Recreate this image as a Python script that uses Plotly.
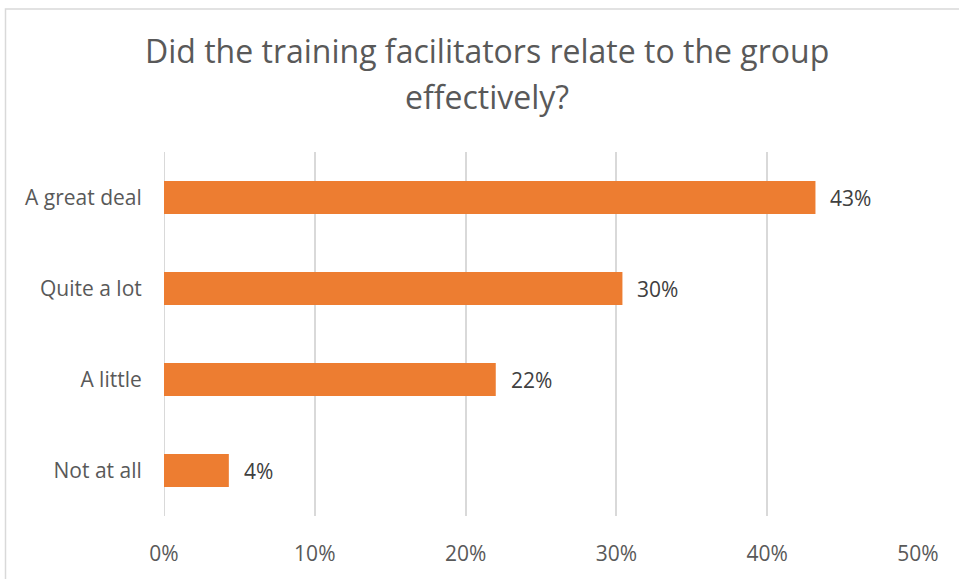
import plotly.graph_objects as go

categories = ["A great deal", "Quite a lot", "A little", "Not at all"]
values = [0.432, 0.304, 0.220, 0.043]
labels = ["43%", "30%", "22%", "4%"]
tick_vals = [0, 0.1, 0.2, 0.3, 0.4, 0.5]
tick_text = ["0%", "10%", "20%", "30%", "40%", "50%"]
title_lines = ["Did the training facilitators relate to the group", "effectively?"]

FONT = "Open Sans"
TXT = "#595959"

fig = go.Figure(go.Bar(
    y=categories, x=values, orientation="h",
    marker=dict(color="#ED7D31", line=dict(width=0)),
    width=0.36,
    hoverinfo="skip",
))

# data labels, offset from the bar ends like the reference
for cat, val, lab in zip(categories, values, labels):
    fig.add_annotation(text=lab, x=val, y=cat, xref="x", yref="y",
                       xanchor="left", yanchor="middle", xshift=13,
                       showarrow=False,
                       font=dict(family=FONT, size=21, color="#404040"))

PLOT_H = 368.0
fig.update_layout(
    width=959, height=579,
    margin=dict(l=164, r=41, t=152, b=59),
    paper_bgcolor="white", plot_bgcolor="white",
    showlegend=False,
    font=dict(family=FONT, color=TXT, size=21),
)
# title as two annotations (reference line spacing is wider than plotly's default)
for i, line in enumerate(title_lines):
    base_px = [60, 107][i]
    fig.add_annotation(text=line, xref="paper", yref="paper",
                       x=(487 - 164) / 754.0, xanchor="center",
                       y=(520 - base_px) / PLOT_H, yanchor="middle", yshift=11,
                       showarrow=False,
                       font=dict(family=FONT, size=32, color=TXT))
fig.update_xaxes(range=[0, 0.5], tickvals=tick_vals, ticktext=tick_text,
                 showgrid=True, gridcolor="#D9D9D9", gridwidth=2, zeroline=False,
                 ticks="outside", ticklen=19, tickcolor="rgba(0,0,0,0)",
                 tickfont=dict(family=FONT, size=21, color=TXT))
fig.update_yaxes(autorange="reversed", showgrid=False, zeroline=False,
                 ticks="outside", ticklen=17, tickcolor="rgba(0,0,0,0)",
                 tickfont=dict(family=FONT, size=21, color=TXT))
fig.add_shape(type="line", xref="x", yref="paper", x0=0, x1=0, y0=0, y1=1,
              line=dict(color="#D9D9D9", width=2), layer="below")
fig.add_shape(type="rect", xref="paper", yref="paper",
              x0=(5.5 - 164) / 754.0, x1=1.1, y0=-0.3, y1=(520 - 7.5) / PLOT_H,
              line=dict(color="#D9D9D9", width=1.5), layer="below")

fig.write_html("out.html", config={"displayModeBar": False},
               post_script="document.body.style.margin='0';")
